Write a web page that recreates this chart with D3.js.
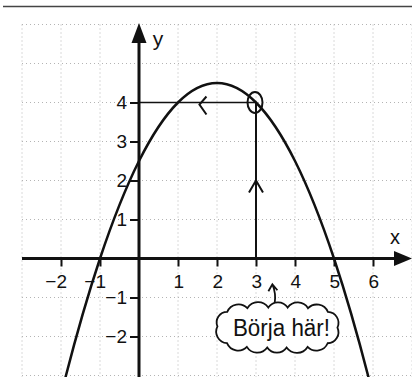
<!DOCTYPE html>
<html>
<head>
<meta charset="utf-8">
<script src="https://cdn.jsdelivr.net/npm/d3@7"></script>
<style>
	body { margin:0; background:#fff; }
	svg { display:block; font-family:'Liberation Sans', Arial, sans-serif; }
</style>
</head>
<body>
<svg id="chart" width="412" height="377"></svg>
<script>
// values
var curveX = [-3, -2, -1, 0, 1, 2, 3, 4, 5, 6, 7];
var curveY = [-8, -3.5, 0, 2.5, 4, 4.5, 4, 2.5, 0, -3.5, -8];
var xTickValues = [-2, -1, 1, 2, 3, 4, 5, 6];
var yTickValues = [-2, -1, 1, 2, 3, 4];
var startPoint = [3, 4];
var leftChevronX = 1.55;
var upChevronY = 2;
var noteText = 'Börja här!';

var W = 412, H = 377;
var svg = d3.select('#chart');

var x = d3.scaleLinear().domain([-3, 7]).range([22, 412]);
var y = d3.scaleLinear().domain([-3, 6]).range([375.5, 24.5]);

// scan border at the top
svg.append('line')
	.attr('x1', 3).attr('x2', W)
	.attr('y1', 6.5).attr('y2', 6.5)
	.attr('stroke', '#444')
	.attr('stroke-width', 1.5)

// dotted grid
var grid = svg.append('g')
	.attr('stroke', '#b4b4b4')
	.attr('stroke-width', 1)
	.attr('stroke-dasharray', '1 3')

grid.selectAll('.gx')
	.data(x.ticks(10))
	.enter()
	.append('line')
	.attr('x1', d=>x(d)).attr('x2', d=>x(d))
	.attr('y1', y(6)).attr('y2', H)

grid.selectAll('.gy')
	.data(y.ticks(9))
	.enter()
	.append('line')
	.attr('y1', d=>y(d)).attr('y2', d=>y(d))
	.attr('x1', x(-3)).attr('x2', W)

// axes
var xAxis = svg.append('g')
	.attr('transform', `translate(0,${y(0)})`)
	.call(d3.axisBottom(x).tickValues(xTickValues).tickSize(8).tickSizeOuter(0).tickPadding(8.5))

var yAxis = svg.append('g')
	.attr('transform', `translate(${x(0)},0)`)
	.call(d3.axisLeft(y).tickValues(yTickValues).tickSize(9).tickSizeOuter(0).tickPadding(3))

svg.selectAll('.domain').remove();
svg.selectAll('.tick line')
	.attr('stroke', '#111')
	.attr('stroke-width', 2)
svg.selectAll('.tick text')
	.attr('fill', '#111')
	.style('font-size', '19px')
xAxis.selectAll('.tick text')
	.attr('text-anchor', 'end')
	.attr('x', 5.5)

svg.append('line')
	.attr('x1', x(-3)).attr('x2', W - 14)
	.attr('y1', y(0)).attr('y2', y(0))
	.attr('stroke', '#111')
	.attr('stroke-width', 3)

svg.append('line')
	.attr('x1', x(0)).attr('x2', x(0))
	.attr('y1', H).attr('y2', y(6) + 14)
	.attr('stroke', '#111')
	.attr('stroke-width', 3)

// arrow heads
svg.append('path')
	.attr('d', `M${W},${y(0)} L${W - 18},${y(0) - 7.5} L${W - 18},${y(0) + 7.5} Z`)
	.attr('fill', '#111')

svg.append('path')
	.attr('d', `M${x(0)},${y(6) - 1.5} L${x(0) - 7.5},${y(6) + 18.5} L${x(0) + 7.5},${y(6) + 18.5} Z`)
	.attr('fill', '#111')

svg.append('text')
	.attr('x', W - 17).attr('y', y(0) - 15)
	.attr('text-anchor', 'middle')
	.style('font-size', '20px')
	.attr('fill', '#111')
	.text('x')

svg.append('text')
	.attr('x', x(0) + 19).attr('y', y(6) + 21)
	.attr('text-anchor', 'middle')
	.style('font-size', '21px')
	.attr('fill', '#111')
	.text('y')

// parabola
var points = curveX.map((d,i)=>[d, curveY[i]]);

svg.append('path')
	.datum(points)
	.attr('d', d3.line()
		.x(d=>x(d[0]))
		.y(d=>y(d[1]))
		.curve(d3.curveCatmullRom.alpha(0)))
	.attr('fill', 'none')
	.attr('stroke', '#111')
	.attr('stroke-width', 2.5)

// helper lines from the start point
svg.append('line')
	.attr('x1', x(0)).attr('x2', x(startPoint[0]))
	.attr('y1', y(startPoint[1])).attr('y2', y(startPoint[1]))
	.attr('stroke', '#111')
	.attr('stroke-width', 1.5)

svg.append('line')
	.attr('x1', x(startPoint[0])).attr('x2', x(startPoint[0]))
	.attr('y1', y(startPoint[1])).attr('y2', y(0))
	.attr('stroke', '#111')
	.attr('stroke-width', 2)

svg.append('ellipse')
	.attr('cx', x(startPoint[0]) - 1).attr('cy', y(startPoint[1]))
	.attr('rx', 7.5).attr('ry', 10.5)
	.attr('fill', 'none')
	.attr('stroke', '#111')
	.attr('stroke-width', 2)

// chevrons showing direction
var lc = [x(leftChevronX), y(startPoint[1]) + 2];
svg.append('path')
	.attr('d', `M${lc[0] + 7},${lc[1] - 8} L${lc[0]},${lc[1]} L${lc[0] + 7},${lc[1] + 10}`)
	.attr('fill', 'none')
	.attr('stroke', '#111')
	.attr('stroke-width', 2)

var uc = [x(startPoint[0]), y(upChevronY)];
svg.append('path')
	.attr('d', `M${uc[0] - 7},${uc[1] + 12} L${uc[0]},${uc[1]} L${uc[0] + 7},${uc[1] + 12}`)
	.attr('fill', 'none')
	.attr('stroke', '#111')
	.attr('stroke-width', 2)

// cloud with note
function cloudPath(cx, cy, a, b, n) {
	var dense = d3.range(0, 721).map(i => {
		var t = i / 720 * 2 * Math.PI;
		var c = Math.cos(t), s = Math.sin(t);
		return [cx + a * Math.sign(c) * Math.pow(Math.abs(c), 0.6),
			cy + b * Math.sign(s) * Math.pow(Math.abs(s), 0.6)];
	});
	var len = [0];
	for (var i = 1; i < dense.length; i++) {
		len.push(len[i-1] + Math.hypot(dense[i][0]-dense[i-1][0], dense[i][1]-dense[i-1][1]));
	}
	var total = len[len.length - 1];
	var pts = [];
	var j = 0;
	for (var k = 0; k < n; k++) {
		var target = k * total / n;
		while (len[j] < target) j++;
		pts.push(dense[j]);
	}
	var d = `M${pts[0][0]},${pts[0][1]}`;
	for (var k = 1; k <= n; k++) {
		var p = pts[k % n], q = pts[k - 1];
		var r = Math.hypot(p[0]-q[0], p[1]-q[1]) * 0.6;
		d += ` A${r},${r} 0 0 1 ${p[0]},${p[1]}`;
	}
	return d + ' Z';
}

svg.append('path')
	.attr('d', cloudPath(x(3.55), y(-1.77), 60, 20, 14))
	.attr('fill', '#fff')
	.attr('stroke', '#111')
	.attr('stroke-width', 1.8)

svg.append('text')
	.attr('x', x(3.55) + 4).attr('y', y(-1.77) + 8)
	.attr('text-anchor', 'middle')
	.attr('textLength', 97)
	.attr('lengthAdjust', 'spacingAndGlyphs')
	.style('font-size', '23px')
	.attr('fill', '#111')
	.text(noteText)

// small arrow from the cloud to the start
var a0 = [x(3.48), y(-1.14)], a1 = [x(3.42), y(-0.66)];
svg.append('path')
	.attr('d', `M${a0[0]},${a0[1]} Q${a0[0] + 1.5},${(a0[1] + a1[1]) / 2} ${a1[0]},${a1[1]}`
		+ ` M${a1[0] - 4},${a1[1] + 7} L${a1[0]},${a1[1]} L${a1[0] + 5},${a1[1] + 6}`)
	.attr('fill', 'none')
	.attr('stroke', '#111')
	.attr('stroke-width', 1.8)
</script>
</body>
</html>
